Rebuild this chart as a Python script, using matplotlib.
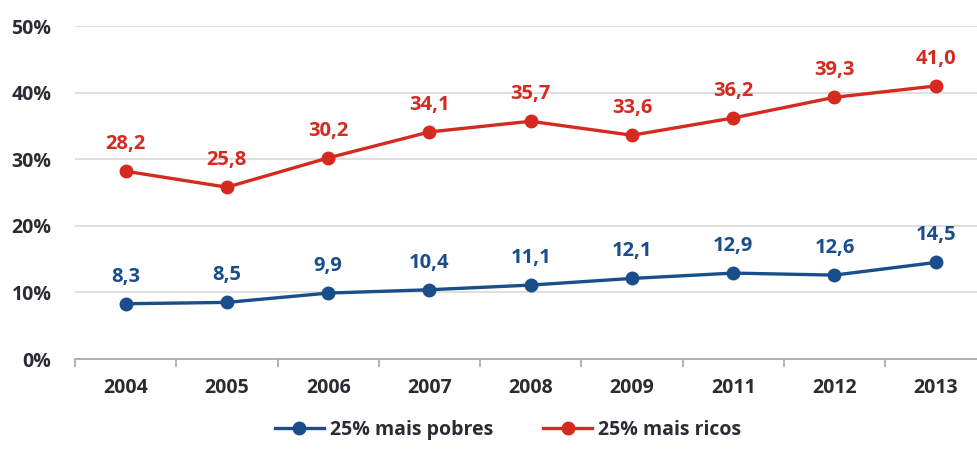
import numpy as np
import matplotlib.pyplot as plt
from matplotlib.ticker import FixedLocator

anos = ['2004', '2005', '2006', '2007', '2008', '2009', '2011', '2012', '2013']
pobres = [8.3, 8.5, 9.9, 10.4, 11.1, 12.1, 12.9, 12.6, 14.5]
ricos = [28.2, 25.8, 30.2, 34.1, 35.7, 33.6, 36.2, 39.3, 41.0]
y_ticks = [0, 10, 20, 30, 40, 50]

azul = '#1A4E8A'
vermelho = '#D42A1F'
texto = '#2B2B33'

plt.rcParams['font.family'] = ['Open Sans', 'DejaVu Sans']
plt.rcParams['font.weight'] = 'bold'

fig = plt.figure(figsize=(9.77, 4.53), dpi=100)
ax = fig.add_axes([0.0768, 0.2075, 0.9328, 0.735])

x = np.arange(len(anos))
ax.plot(x, pobres, color=azul, lw=2.4, marker='o', ms=9, label='25% mais pobres', zorder=3)
ax.plot(x, ricos, color=vermelho, lw=2.4, marker='o', ms=9, label='25% mais ricos', zorder=3)

for serie, cor in [(pobres, azul), (ricos, vermelho)]:
    for xi, v in zip(x, serie):
        ax.annotate(f'{v:.1f}'.replace('.', ','), (xi, v), xytext=(0, 16),
                    textcoords='offset points', ha='center', va='baseline',
                    color=cor, fontsize=14.5, fontweight='bold')

ax.set_xlim(-0.5, len(anos) - 0.5)
ax.set_ylim(0, 50)
ax.set_yticks(y_ticks)
ax.set_yticklabels([f'{t}%' for t in y_ticks])
ax.set_xticks(x)
ax.set_xticklabels(anos)
ax.xaxis.set_minor_locator(FixedLocator(np.arange(-0.5, len(anos), 1)))

ax.grid(axis='y', color='#D9D9D9', lw=1.2, zorder=0)
ax.set_axisbelow(True)
for s in ['left', 'right', 'top']:
    ax.spines[s].set_visible(False)
ax.spines['bottom'].set_color('#A6A6A6')
ax.spines['bottom'].set_linewidth(1.2)

ax.tick_params(axis='y', length=0, pad=17, labelsize=14, labelcolor=texto)
ax.tick_params(axis='x', which='major', length=0, pad=14, labelsize=14, labelcolor=texto)
ax.tick_params(axis='x', which='minor', length=6, width=1.2, color='#A6A6A6')

leg = fig.legend(loc='lower center', bbox_to_anchor=(0.52, -0.01), ncol=2, frameon=False,
                 fontsize=14, handlelength=2.5, columnspacing=2.6, handletextpad=0.3)
for t in leg.get_texts():
    t.set_color(texto)

fig.savefig('out.png', dpi=100)
